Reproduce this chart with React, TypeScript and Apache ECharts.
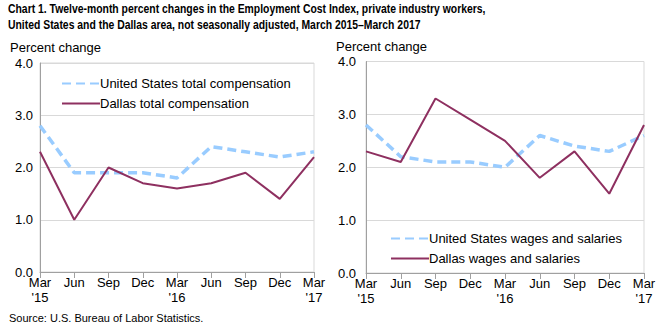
import React, { useEffect, useRef } from "react";
import * as echarts from "echarts";

const categories = ["Mar\n'15", "Jun", "Sep", "Dec", "Mar\n'16", "Jun", "Sep", "Dec", "Mar\n'17"];
const yTicks = [0, 1, 2, 3, 4];
const usTotalComp = [2.8, 1.9, 1.9, 1.9, 1.8, 2.4, 2.3, 2.2, 2.3];
const dallasTotalComp = [2.3, 1.0, 2.0, 1.7, 1.6, 1.7, 1.9, 1.4, 2.2];
const usWages = [2.8, 2.2, 2.1, 2.1, 2.0, 2.6, 2.4, 2.3, 2.6];
const dallasWages = [2.3, 2.1, 3.3, 2.9, 2.5, 1.8, 2.3, 1.5, 2.8];

const titleLines = [
  "Chart 1. Twelve-month percent changes in the Employment Cost Index, private industry workers,",
  "United States and the Dallas area, not seasonally adjusted, March 2015\u2013March 2017",
];
const sourceText = "Source: U.S. Bureau of Labor Statistics.";

const US_COLOR = "#99ccff";
const DAL_COLOR = "#8e3060";
const FONT = "Liberation Sans, Arial, sans-serif";

export default function App() {
  const ref = useRef<HTMLDivElement>(null);
  useEffect(() => {
    if (!ref.current) return;
    const chart = echarts.init(ref.current, undefined, { renderer: "svg" });
    const xAxis = (gridIndex: number) => ({
      type: "category",
      gridIndex,
      data: categories,
      boundaryGap: false,
      axisLine: { show: true, lineStyle: { color: "#a0a0a0", width: 1 } },
      axisTick: { show: true, length: 6, alignWithLabel: true, lineStyle: { color: "#a0a0a0" } },
      axisLabel: { color: "#000", fontSize: 13, fontFamily: FONT, lineHeight: 15, margin: 3, interval: 0 },
      splitLine: { show: false },
    });
    const yAxis = (gridIndex: number, margin: number) => ({
      type: "value",
      gridIndex,
      min: yTicks[0],
      max: yTicks[yTicks.length - 1],
      interval: 1,
      axisLine: { show: true, lineStyle: { color: "#a0a0a0" } },
      axisTick: { show: false },
      axisLabel: { color: "#000", fontSize: 13, fontFamily: FONT, margin, formatter: (v: number) => v.toFixed(1) },
      splitLine: { show: true, lineStyle: { color: "#d9d9d9" } },
    });
    const usStyle = { color: US_COLOR, width: 3.5, type: [9, 5] as any };
    const dalStyle = { color: DAL_COLOR, width: 2 };
    const legendCommon = {
      orient: "vertical",
      itemWidth: 38,
      itemHeight: 10,
      itemGap: 7,
      itemStyle: { opacity: 0 },
      textStyle: { fontSize: 13, fontFamily: FONT, color: "#000", padding: [0, 0, 0, -5] },
    };
    chart.setOption({
      animation: false,
      textStyle: { fontFamily: FONT },
      grid: [
        { left: 40, top: 63, width: 274, height: 209, show: true, borderColor: "#d9d9d9", borderWidth: 1, backgroundColor: "transparent" },
        { left: 366, top: 61.5, width: 278, height: 211.5, show: true, borderColor: "#d9d9d9", borderWidth: 1, backgroundColor: "transparent" },
      ],
      xAxis: [xAxis(0), xAxis(1)],
      yAxis: [yAxis(0, 7), yAxis(1, 10)],
      legend: [
        { ...legendCommon, left: 56, top: 72, data: ["United States total compensation", "Dallas total compensation"] },
        { ...legendCommon, left: 385, top: 227, data: ["United States wages and salaries", "Dallas wages and salaries"] },
      ],
      series: [
        { name: "United States total compensation", type: "line", xAxisIndex: 0, yAxisIndex: 0, data: usTotalComp, symbol: "none", lineStyle: usStyle, itemStyle: { color: US_COLOR } },
        { name: "Dallas total compensation", type: "line", xAxisIndex: 0, yAxisIndex: 0, data: dallasTotalComp, symbol: "none", lineStyle: dalStyle, itemStyle: { color: DAL_COLOR } },
        { name: "United States wages and salaries", type: "line", xAxisIndex: 1, yAxisIndex: 1, data: usWages, symbol: "none", lineStyle: usStyle, itemStyle: { color: US_COLOR } },
        { name: "Dallas wages and salaries", type: "line", xAxisIndex: 1, yAxisIndex: 1, data: dallasWages, symbol: "none", lineStyle: dalStyle, itemStyle: { color: DAL_COLOR } },
      ],
      graphic: [
        { type: "text", x: 8, y: 2, scaleX: 0.8, style: { text: titleLines[0], fontSize: 13, fontWeight: "bold", fontFamily: FONT, fill: "#000" } },
        { type: "text", x: 8, y: 18, scaleX: 0.8, style: { text: titleLines[1], fontSize: 13, fontWeight: "bold", fontFamily: FONT, fill: "#000" } },
        { type: "text", left: 10, top: 41, style: { text: "Percent change", fontSize: 13, fontFamily: FONT, fill: "#000" } },
        { type: "text", left: 336, top: 40, style: { text: "Percent change", fontSize: 13, fontFamily: FONT, fill: "#000" } },
        { type: "text", left: 9, top: 312, style: { text: sourceText, fontSize: 11, fontFamily: FONT, fill: "#000" } },
      ],
    });
    return () => chart.dispose();
  }, []);
  return <div ref={ref} style={{ width: 664, height: 331, position: "absolute", left: 0, top: 0 }} />;
}
